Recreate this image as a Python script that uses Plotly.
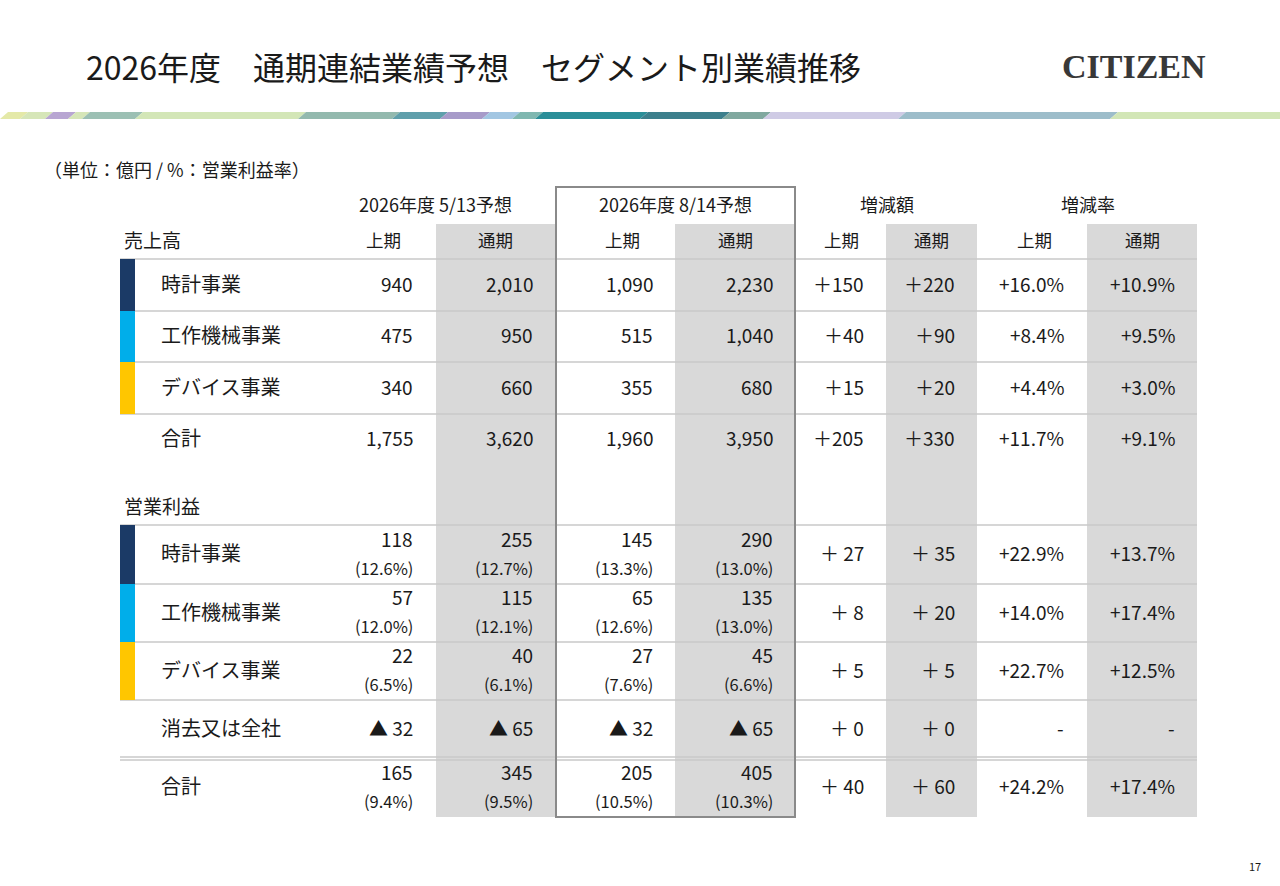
import plotly.graph_objects as go

# ---------------- data ----------------
segments = ["時計事業", "工作機械事業", "デバイス事業"]
sales_rows = segments + ["合計"]
op_rows = segments + ["消去又は全社", "合計"]

sales_h1_0513 = [940, 475, 340, 1755]
sales_fy_0513 = [2010, 950, 660, 3620]
sales_h1_0814 = [1090, 515, 355, 1960]
sales_fy_0814 = [2230, 1040, 680, 3950]
sales_diff_h1 = [150, 40, 15, 205]
sales_diff_fy = [220, 90, 20, 330]
sales_rate_h1 = [16.0, 8.4, 4.4, 11.7]
sales_rate_fy = [10.9, 9.5, 3.0, 9.1]

op_h1_0513 = [118, 57, 22, -32, 165]
op_fy_0513 = [255, 115, 40, -65, 345]
op_h1_0814 = [145, 65, 27, -32, 205]
op_fy_0814 = [290, 135, 45, -65, 405]
mg_h1_0513 = [12.6, 12.0, 6.5, None, 9.4]
mg_fy_0513 = [12.7, 12.1, 6.1, None, 9.5]
mg_h1_0814 = [13.3, 12.6, 7.6, None, 10.5]
mg_fy_0814 = [13.0, 13.0, 6.6, None, 10.3]
op_diff_h1 = [27, 8, 5, 0, 40]
op_diff_fy = [35, 20, 5, 0, 60]
op_rate_h1 = [22.9, 14.0, 22.7, None, 24.2]
op_rate_fy = [13.7, 17.4, 12.5, None, 17.4]

group_headers = ["2026年度 5/13予想", "2026年度 8/14予想", "増減額", "増減率"]
sub_headers = ["上期", "通期", "上期", "通期", "上期", "通期", "上期", "通期"]
seg_colors = ["#1b3a66", "#00aeea", "#ffc600"]

title = "2026年度　通期連結業績予想　セグメント別業績推移"
unit_note = "（単位：億円 / %：営業利益率）"

# ---------------- layout geometry ----------------
FONT = "Noto Sans CJK JP"
TXT = "#1a1a1a"
GRAY = "#d9d9d9"
LINE = "#c9c9c9"
DY = -2  # vertical text correction

col_right = [415, 535, 655, 775, 866, 957, 1066, 1177]
col_center = [383, 495, 622, 735, 841, 931, 1034, 1142]
group_center = [435, 675, 887, 1088]
gray_cols = [(436, 556), (675, 795), (886, 977), (1087, 1197)]
TABLE_L, TABLE_R = 120, 1197

sales_bounds = [259, 311, 362, 414, 465]
op_bounds = [525, 584, 642, 700, 758, 817]

shapes = []
annotations = []


def text(x, y, s, size=19, anchor="right", color=TXT, family=FONT, bold=False):
    annotations.append(dict(x=x, y=y + DY, text=s, showarrow=False, xanchor=anchor,
                            yanchor="middle", xref="x", yref="y",
                            font=dict(family=family, size=size, color=color,
                                      weight=700 if bold else 400)))


def rect(x0, y0, x1, y1, fill):
    shapes.append(dict(type="rect", x0=x0, y0=y0, x1=x1, y1=y1, xref="x", yref="y",
                       fillcolor=fill, line=dict(width=0), layer="below"))


def hline(y, x0=TABLE_L, x1=TABLE_R, w=1.5, c=LINE):
    shapes.append(dict(type="line", x0=x0, x1=x1, y0=y, y1=y, xref="x", yref="y",
                       line=dict(width=w, color=c), layer="below"))


# gray columns
for x0, x1 in gray_cols:
    rect(x0, 224, x1, 817, GRAY)

# horizontal rules
hline(259)
for y in sales_bounds[1:4]:
    hline(y)
for y in op_bounds[:4]:
    hline(y)
hline(757, w=1.5)
hline(760, w=1.5)

# segment colour bars
for i, c in enumerate(seg_colors):
    rect(120, sales_bounds[i], 135, sales_bounds[i + 1], c)
    rect(120, op_bounds[i], 135, op_bounds[i + 1], c)

# 8/14 box
shapes.append(dict(type="rect", x0=556, x1=795, y0=187, y1=817, xref="x", yref="y",
                   fillcolor="rgba(0,0,0,0)", line=dict(width=2, color="#8a8a8a"),
                   layer="above"))

# decorative stripe
stripe = [
    (0, 20, "#e4e9a8"), (20, 45, "#d6e6b8"), (45, 68, "#b8a6d2"), (68, 82, "#d6e6b8"),
    (82, 135, "#9cc0b4"), (135, 298, "#d3e6b7"), (298, 392, "#93b9ae"),
    (392, 440, "#5f9fab"), (440, 482, "#a79bc9"), (482, 512, "#a2c6e2"),
    (512, 535, "#7fb7b0"), (535, 640, "#2a8e98"), (640, 722, "#3c7f8c"),
    (722, 763, "#80a89f"), (763, 898, "#cfcbe5"), (898, 1110, "#9dbdca"),
    (1110, 1280, "#d2e6b6"),
]
for x0, x1, c in stripe:
    s = 8
    shapes.append(dict(type="path",
                       path=f"M {x0},{119} L {x0 + s},{112} L {x1 + s},{112} L {x1},{119} Z",
                       fillcolor=c, line=dict(width=0), xref="x", yref="y", layer="below"))

# title, logo, note, page number
text(84, 68, title, size=32, anchor="left")
text(1208, 68, "CITIZEN", size=34, anchor="right", color="#383838",
     family="Liberation Serif", bold=True)
text(42, 171, unit_note, size=18, anchor="left")
text(1263, 868, "17", size=11, anchor="right")

# headers
for cx, g in zip(group_center, group_headers):
    text(cx, 206, g, size=18, anchor="center")
for cx, h in zip(col_center, sub_headers):
    text(cx, 241, h, size=17.5, anchor="center")
text(122, 241, "売上高", size=19, anchor="left")
text(122, 507, "営業利益", size=19, anchor="left")


def fmt_num(v):
    if v < 0:
        return f"▲ {abs(v):,}"
    return f"{v:,}"


# sales block
for i, name in enumerate(sales_rows):
    yc = (sales_bounds[i] + sales_bounds[i + 1]) / 2
    text(159, yc, name, size=20, anchor="left")
    vals = [fmt_num(sales_h1_0513[i]), fmt_num(sales_fy_0513[i]),
            fmt_num(sales_h1_0814[i]), fmt_num(sales_fy_0814[i]),
            f"＋{sales_diff_h1[i]}", f"＋{sales_diff_fy[i]}",
            f"+{sales_rate_h1[i]:.1f}%", f"+{sales_rate_fy[i]:.1f}%"]
    for xr, s in zip(col_right, vals):
        text(xr, yc, s, size=19)

# operating profit block
for i, name in enumerate(op_rows):
    y0, y1 = op_bounds[i], op_bounds[i + 1]
    yc = (y0 + y1) / 2
    text(159, yc, name, size=20, anchor="left")
    vs = [op_h1_0513[i], op_fy_0513[i], op_h1_0814[i], op_fy_0814[i]]
    ms = [mg_h1_0513[i], mg_fy_0513[i], mg_h1_0814[i], mg_fy_0814[i]]
    for xr, v, m in zip(col_right[:4], vs, ms):
        if m is None:
            text(xr, yc, fmt_num(v), size=19)
        else:
            text(xr, yc - 14.5, fmt_num(v), size=19)
            text(xr, yc + 15, f"({m:.1f}%)", size=16.5)
    text(col_right[4], yc, f"＋ {op_diff_h1[i]}", size=19)
    text(col_right[5], yc, f"＋ {op_diff_fy[i]}", size=19)
    r1 = "-" if op_rate_h1[i] is None else f"+{op_rate_h1[i]:.1f}%"
    r2 = "-" if op_rate_fy[i] is None else f"+{op_rate_fy[i]:.1f}%"
    text(col_right[6], yc, r1, size=19)
    text(col_right[7], yc, r2, size=19)

fig = go.Figure()
fig.add_trace(go.Scatter(x=[0, 1280], y=[0, 886], mode="markers",
                         marker=dict(opacity=0), hoverinfo="skip", showlegend=False))
fig.update_layout(
    width=1280, height=886, margin=dict(l=0, r=0, t=0, b=0),
    paper_bgcolor="white", plot_bgcolor="white",
    xaxis=dict(range=[0, 1280], visible=False, fixedrange=True),
    yaxis=dict(range=[886, 0], visible=False, fixedrange=True),
    shapes=shapes, annotations=annotations, showlegend=False,
)
fig.write_html("out.html", config={"displayModeBar": False},
               post_script="document.body.style.margin='0';document.body.style.overflow='hidden';")
